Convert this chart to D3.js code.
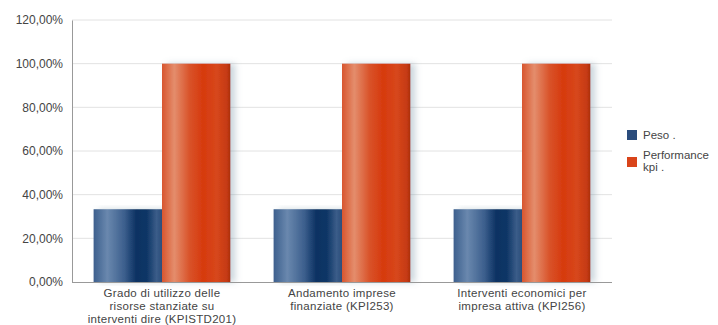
<!DOCTYPE html>
<html>
<head>
<meta charset="utf-8">
<script src="https://cdn.jsdelivr.net/npm/d3@7"></script>
<style>
  html, body { margin: 0; padding: 0; background: #fff; }
  svg text { font-family: "Liberation Sans", Arial, sans-serif; fill: #444; }
</style>
</head>
<body>
<svg id="chart" width="718" height="325"></svg>
<script>
// KPI categories (each label split into display lines)
const categories = [
  ["Grado di utilizzo delle", "risorse stanziate su", "interventi dire (KPISTD201)"],
  ["Andamento imprese", "finanziate (KPI253)"],
  ["Interventi economici per", "impresa attiva (KPI256)"]
];
const seriesNames = ["Peso .", "Performance kpi ."];
const pesoValues = [33.33, 33.33, 33.33];
const performanceValues = [100, 100, 100];
const yTicks = [0, 20, 40, 60, 80, 100, 120];

const svg = d3.select("#chart");
const margin = { left: 72, right: 106, top: 20, bottom: 43 };
const W = 718, H = 325;
const innerW = W - margin.left - margin.right;
const innerH = H - margin.top - margin.bottom;

const g = svg.append("g").attr("transform", `translate(${margin.left},${margin.top})`);

const x0 = d3.scaleBand().domain(d3.range(categories.length)).range([0, innerW]).paddingInner(0.24).paddingOuter(0.12);
const x1 = d3.scaleBand().domain([0, 1]).range([0, x0.bandwidth()]);
const y = d3.scaleLinear().domain([0, 120]).range([innerH, 0]);

const fmt = v => d3.format(".2f")(v).replace(".", ",") + "%";

// gradients for the cylindrical bar look
const defs = svg.append("defs");
function grad(id, stops) {
  const lg = defs.append("linearGradient").attr("id", id).attr("x1", "0%").attr("x2", "100%").attr("y1", "0%").attr("y2", "0%");
  stops.forEach(([o, c]) => lg.append("stop").attr("offset", o).attr("stop-color", c));
}
grad("gBlue", [["0%", "#3c5f8d"], ["20%", "#6a88ae"], ["45%", "#3c5f8d"], ["62%", "#0d3263"], ["78%", "#0f3666"], ["92%", "#3b5d89"], ["100%", "#2c4d7a"]]);
grad("gOrange", [["0%", "#d8562f"], ["18%", "#e48d6c"], ["40%", "#d9532a"], ["60%", "#d63a0e"], ["80%", "#d7471c"], ["95%", "#c53a12"], ["100%", "#a9300f"]]);
const colors = ["#2a4c7c", "#d9441a"];
const grads = ["url(#gBlue)", "url(#gOrange)"];

// soft bluish shadow cast to the right of each bar
const shadow = defs.append("filter").attr("id", "shadow").attr("x", "-20%").attr("width", "160%").attr("y", "-5%").attr("height", "110%");
shadow.append("feGaussianBlur").attr("in", "SourceAlpha").attr("stdDeviation", 3);
shadow.append("feOffset").attr("dx", 5).attr("dy", 0).attr("result", "ob");
shadow.append("feFlood").attr("flood-color", "#6d8ea0").attr("flood-opacity", 0.35);
shadow.append("feComposite").attr("in2", "ob").attr("operator", "in");
const fm = shadow.append("feMerge");
fm.append("feMergeNode");
fm.append("feMergeNode").attr("in", "SourceGraphic");

// gridlines
g.append("g").selectAll("line").data(yTicks.filter(t => t > 0)).join("line")
  .attr("x1", 0).attr("x2", innerW)
  .attr("y1", d => y(d)).attr("y2", d => y(d))
  .attr("stroke", "#e2e2e2").attr("stroke-width", 1);

// y axis
const yAxis = g.append("g").call(d3.axisLeft(y).tickValues(yTicks).tickFormat(fmt).tickSize(0).tickPadding(9));
yAxis.select(".domain").attr("stroke", "#999");
yAxis.selectAll("text").style("font-size", "12px").attr("fill", "#4a4a4a");

// bars
const groups = g.append("g").selectAll("g").data(categories).join("g")
  .attr("transform", (d, i) => `translate(${x0(i)},0)`);
groups.each(function (d, i) {
  const vals = [pesoValues[i], performanceValues[i]];
  d3.select(this).selectAll("rect").data(vals).join("rect")
    .attr("x", (v, j) => x1(j))
    .attr("width", x1.bandwidth())
    .attr("y", v => y(v))
    .attr("height", v => innerH - y(v))
    .attr("fill", (v, j) => grads[j])
    .attr("filter", "url(#shadow)");
});

// x baseline
g.append("line").attr("x1", 0).attr("x2", innerW).attr("y1", innerH + 0.5).attr("y2", innerH + 0.5).attr("stroke", "#999");

// category labels
const labels = g.append("g").selectAll("text").data(categories).join("text")
  .attr("text-anchor", "middle")
  .attr("x", (d, i) => x0(i) + x0.bandwidth() / 2)
  .attr("y", innerH + 15)
  .style("font-size", "11.5px")
  .style("letter-spacing", "0.3px");
labels.each(function (lines) {
  d3.select(this).selectAll("tspan").data(lines).join("tspan")
    .attr("x", d3.select(this).attr("x"))
    .attr("dy", (l, k) => k === 0 ? 0 : 13)
    .text(l => l);
});

// legend
const legend = svg.append("g").attr("transform", "translate(627,130)");
const legendLines = [["Peso ."], ["Performance", "kpi ."]];
const legendY = [0, 27];
seriesNames.forEach((name, i) => {
  const item = legend.append("g").attr("transform", `translate(0,${legendY[i]})`);
  item.append("rect").attr("width", 10).attr("height", 10).attr("fill", colors[i]);
  const t = item.append("text").attr("x", 16).attr("y", i === 0 ? 9 : 2).style("font-size", "11.5px");
  legendLines[i].forEach((l, k) => t.append("tspan").attr("x", 16).attr("dy", k === 0 ? 0 : 12).text(l));
});
</script>
</body>
</html>
